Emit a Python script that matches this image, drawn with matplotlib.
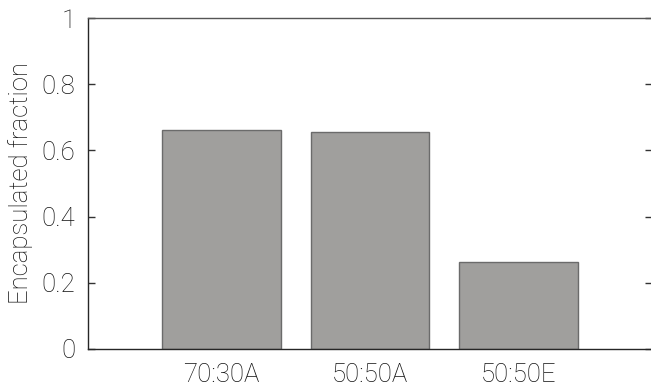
#!/usr/bin/env python3
"""Encapsulated fraction bar chart"""

import matplotlib

matplotlib.use("Agg")
import matplotlib.pyplot as plt

samples = ["70:30A", "50:50A", "50:50E"]
fraction = [0.663, 0.657, 0.263]
yticks = [0, 0.2, 0.4, 0.6, 0.8, 1]
ytick_labels = ["0", "0.2", "0.4", "0.6", "0.8", "1"]


def plot(ax: plt.Axes):
    pos = range(1, len(samples) + 1)
    ax.bar(pos, fraction, width=0.8, color="#a09f9d", edgecolor="#6b6b6b",
           linewidth=1.0, zorder=2)

    ax.set_xlim(0.1, 3.9)
    ax.set_ylim(0, 1)
    ax.set_xticks(list(pos))
    ax.set_xticklabels(samples)
    ax.set_yticks(yticks)
    ax.set_yticklabels(ytick_labels)
    ax.set_ylabel("Encapsulated fraction", labelpad=6)

    ax.tick_params(axis="x", length=0, pad=10)
    ax.tick_params(axis="y", direction="in", length=5, width=1, right=True,
                   pad=9, color="#333333")

    for side in ("left", "bottom"):
        ax.spines[side].set_color("#262626")
        ax.spines[side].set_linewidth(1.0)
    ax.spines["top"].set_color("#555555")
    ax.spines["top"].set_linewidth(1.0)
    ax.spines["right"].set_visible(False)


def main():
    plt.rcParams["font.family"] = ["Roboto", "DejaVu Sans"]
    plt.rcParams["font.weight"] = "light"
    plt.rcParams["axes.labelweight"] = "light"
    plt.rcParams["font.size"] = 18.5
    plt.rcParams["text.color"] = "#111111"
    plt.rcParams["axes.labelcolor"] = "#111111"
    plt.rcParams["xtick.color"] = "#111111"
    plt.rcParams["ytick.color"] = "#111111"

    fig = plt.figure(figsize=(6.51, 3.89), dpi=100)
    ax = fig.add_axes([88 / 651, 1 - 349 / 389, 564 / 651, 331 / 389])
    plot(ax)
    fig.savefig("out.png", dpi=100)


if __name__ == "__main__":
    main()
